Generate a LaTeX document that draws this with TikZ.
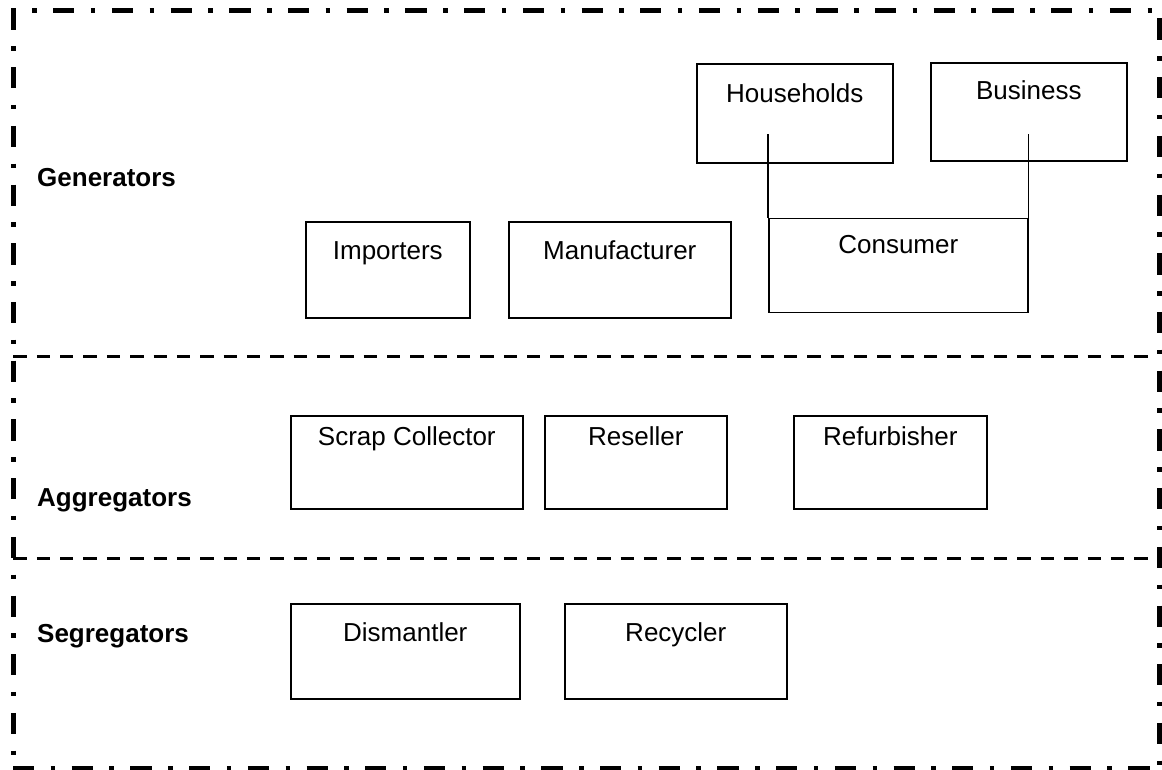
\documentclass[tikz,border=0pt]{standalone}
\usepackage{fontspec}
\setmainfont{Liberation Sans}
\begin{document}
\begin{tikzpicture}[x=1pt,y=-1pt,
  every node/.style={font=\fontsize{26}{30}\selectfont},
  box/.style n args={3}{draw, line width=1.6pt, rectangle, anchor=north west,
    inner xsep=0pt, inner ysep=0pt, minimum width=#1, text height=#2, text depth=#3},
  grouplabel/.style={anchor=base west, inner sep=0pt, font=\fontsize{26}{30}\selectfont\bfseries},
  frame/.style={line width=4.3pt, dash pattern=on 21.2pt off 16.5pt on 4.5pt off 16.5pt},
  divider/.style={line width=3.2pt, dash pattern=on 13.35pt off 10pt},
  link/.style={line width=1.6pt}]
\useasboundingbox (0,0) rectangle (1162,770);

% outer dash-dot frame, one side at a time
\draw[frame, dash phase=19pt] (13.5,10.5) -- (1159,10.5);
\draw[frame] (13.5,8.5) -- (13.5,770);
\draw[frame, dash phase=50.7pt] (1159.5,10.5) -- (1159.5,770);
\draw[frame] (13,768.5) -- (1162,768.5);

% dashed dividers between the three bands
\draw[divider] (13.4,356.5) -- (1157,356.5);
\draw[divider] (13.4,558.5) -- (1157,558.5);

% band titles
\node[grouplabel] (gen) at (37,187) {Generators};
\node[grouplabel] (agg) at (37,506) {Aggregators};
\node[grouplabel] (seg) at (37,642) {Segregators};

% generators
\node[box={196pt}{38pt}{61pt}] (households) at (696,63.5) {Households};
\node[box={196pt}{37pt}{61pt}] (business) at (930,62) {Business};
\node[box={164pt}{38pt}{58pt}] (importers) at (305,221) {Importers};
\node[box={222pt}{38pt}{58pt}] (manufacturer) at (508,221) {Manufacturer};
\node[box={259pt}{35.5pt}{58.5pt}] (consumer) at (768,217.7) {Consumer};

% aggregators
\node[box={232pt}{30pt}{63pt}] (scrap) at (290,415) {Scrap Collector};
\node[box={182pt}{30pt}{63pt}] (reseller) at (544,415) {Reseller};
\node[box={193pt}{30pt}{63pt}] (refurb) at (793,415) {Refurbisher};

% segregators
\node[box={229pt}{38pt}{57pt}] (dismantler) at (290,603) {Dismantler};
\node[box={222pt}{38pt}{57pt}] (recycler) at (564,603) {Recycler};

% households and business feed the consumer box
\coordinate (tap) at ([yshift=30pt]households.south);
\draw[link] (consumer.north west) -- (consumer.north west |- tap);
\draw[link] (consumer.north east) -- (consumer.north east |- tap);
\end{tikzpicture}
\end{document}
